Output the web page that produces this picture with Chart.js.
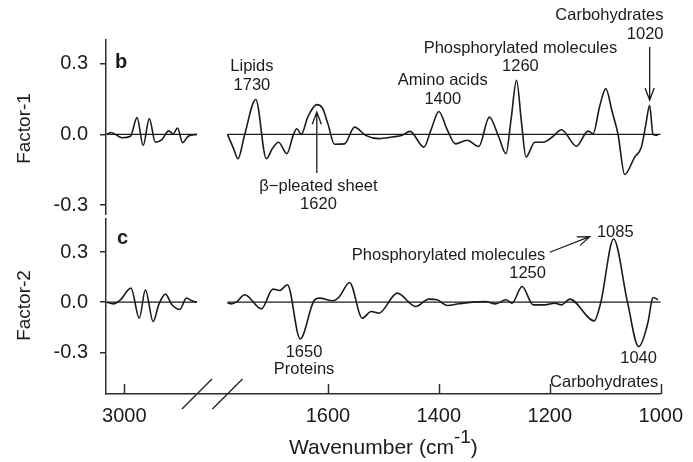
<!DOCTYPE html>
<html>
<head>
<meta charset="utf-8">
<script src="https://cdn.jsdelivr.net/npm/chart.js@4.4.1/dist/chart.umd.min.js"></script>
<style>
  html, body { margin: 0; padding: 0; background: #fff; }
  #wrap { width: 693px; height: 462px; }
</style>
</head>
<body>
<div id="wrap"><canvas id="factorChart" width="693" height="462"></canvas></div>
<script>
// Factor loadings vs wavenumber (cm-1)
// C-H stretch window (high wavenumbers) and fingerprint window
const f1HighWn  = [3032, 3024, 3004, 2989, 2977, 2966, 2955, 2944, 2932, 2920, 2912, 2904, 2895, 2885, 2869];
const f1HighVal = [0.0, 0.008, -0.014, -0.008, 0.071, -0.047, 0.067, -0.033, -0.022, 0.015, 0.002, 0.027, -0.035, -0.008, 0.0];

const f1LowWn  = [1781, 1770, 1762, 1750, 1730, 1711, 1700, 1689, 1674, 1662, 1656, 1648, 1636, 1620, 1610, 1600, 1588, 1570, 1552, 1532,
                  1508, 1484, 1466, 1452, 1427, 1414, 1400, 1385, 1370, 1349, 1328, 1309, 1292, 1279, 1270, 1260, 1251, 1243, 1227, 1212,
                  1195, 1179, 1152, 1131, 1122, 1110, 1099, 1088, 1077, 1065, 1047, 1035, 1027, 1020, 1014, 1008, 1005];
const f1LowVal = [0.0, -0.06, -0.103, 0.0, 0.148, -0.103, -0.06, -0.033, -0.082, 0.0, 0.024, 0.0, 0.075, 0.126, 0.112, 0.045, -0.042, -0.04, 0.031, -0.004,
                  -0.018, -0.011, -0.004, 0.013, -0.054, 0.02, 0.097, 0.02, -0.04, -0.025, -0.051, 0.073, -0.011, -0.082, 0.06, 0.229, 0.05, -0.096, -0.033, -0.033,
                  -0.01, 0.02, -0.05, 0.014, 0.003, 0.12, 0.194, 0.1, 0.0, -0.17, -0.096, -0.054, 0.04, 0.123, 0.0, -0.004, 0.0];

const f2HighWn  = [3032, 3020, 3007, 2988, 2973, 2962, 2948, 2938, 2926, 2914, 2900, 2888, 2878, 2869];
const f2HighVal = [0.0, -0.01, 0.014, 0.084, -0.096, 0.074, -0.116, -0.016, 0.048, -0.016, -0.044, 0.024, 0.008, 0.0];

const f2LowWn  = [1781, 1774, 1765, 1750, 1720, 1699, 1687, 1673, 1650, 1624, 1615, 1591, 1579, 1561, 1538, 1522, 1508, 1475, 1442, 1418,
                  1403, 1385, 1364, 1340, 1316, 1298, 1279, 1268, 1250, 1230, 1209, 1191, 1179, 1164, 1120, 1108, 1085, 1060, 1040, 1023,
                  1016, 1013, 1005];
const f2LowVal = [-0.003, -0.01, 0.0, 0.044, -0.04, 0.078, 0.07, 0.104, -0.22, 0.014, 0.024, 0.008, 0.034, 0.118, -0.096, -0.056, -0.066, 0.054, -0.026, 0.018,
                  0.014, -0.02, -0.01, 0.0, 0.004, -0.01, 0.014, -0.006, 0.094, -0.016, -0.016, -0.006, -0.016, 0.018, -0.112, 0.0, 0.378, 0.0, -0.266, -0.12,
                  0.012, 0.028, 0.014];

// zero reference lines, one per window
const highRange = [3032, 2869];
const lowRange  = [1781, 1000];

const xTickWn   = [3000, 1600, 1400, 1200, 1000];
const yTickVals = [-0.3, 0.0, 0.3];

// the 3000 window is slid down the axis so it sits just left of the break
const BREAK_SHIFT = 1033;
const toAxis = wn => (wn > 2500 ? wn - BREAK_SHIFT : wn);
const fromAxis = v => (v > 1820 ? v + BREAK_SHIFT : v);

const INK = '#1b1b1b';
const AXIS_INK = '#2e2e2e';
const FONT = "'Liberation Sans', Arial, Helvetica, sans-serif";

function series(wn, vals, axis) {
  return {
    data: wn.map((w, i) => ({ x: toAxis(w), y: vals[i] })),
    yAxisID: axis,
    borderColor: INK,
    borderWidth: 1.6,
    pointRadius: 0,
    cubicInterpolationMode: 'monotone',
    fill: false
  };
}

function baseline(range, axis) {
  return {
    data: range.map(w => ({ x: toAxis(w), y: 0 })),
    yAxisID: axis,
    borderColor: INK,
    borderWidth: 1.3,
    pointRadius: 0,
    fill: false
  };
}

// labels and pointers, placed in data units of their panel
const notesB = [
  { wn: 1737, y: 0.286, text: 'Lipids' },
  { wn: 1737, y: 0.209, text: '1730' },
  { wn: 1393, y: 0.227, text: 'Amino acids' },
  { wn: 1393, y: 0.150, text: '1400' },
  { wn: 1253, y: 0.366, text: 'Phosphorylated molecules' },
  { wn: 1253, y: 0.286, text: '1260' },
  { wn: 995, y: 0.502, text: 'Carbohydrates', align: 'right' },
  { wn: 995, y: 0.425, text: '1020', align: 'right' },
  { wn: 1617, y: -0.222, text: 'β−pleated sheet' },
  { wn: 1617, y: -0.298, text: '1620' }
];
const notesC = [
  { wn: 1643, y: -0.301, text: '1650' },
  { wn: 1643, y: -0.405, text: 'Proteins' },
  { wn: 1208, y: 0.277, text: 'Phosphorylated molecules', align: 'right' },
  { wn: 1082, y: 0.417, text: '1085' },
  { wn: 1240, y: 0.169, text: '1250' },
  { wn: 1040, y: -0.340, text: '1040' },
  { wn: 1102, y: -0.478, text: 'Carbohydrates' }
];
const arrowsB = [
  { from: [1020, 0.37], to: [1020, 0.145] },
  { from: [1620, -0.164], to: [1620, 0.095] }
];
const arrowsC = [
  { from: [1200, 0.299], to: [1128, 0.392] }
];

function drawArrow(ctx, x1, y1, x2, y2) {
  const ang = Math.atan2(y2 - y1, x2 - x1);
  const len = 13, spread = 0.36;
  ctx.beginPath();
  ctx.moveTo(x1, y1);
  ctx.lineTo(x2, y2);
  ctx.moveTo(x2 - len * Math.cos(ang - spread), y2 - len * Math.sin(ang - spread));
  ctx.lineTo(x2, y2);
  ctx.lineTo(x2 - len * Math.cos(ang + spread), y2 - len * Math.sin(ang + spread));
  ctx.stroke();
}

const decorations = {
  id: 'decorations',
  afterDraw(chart) {
    const { ctx, chartArea } = chart;
    const x = chart.scales.x, yB = chart.scales.yB, yC = chart.scales.yC;
    const bottom = chartArea.bottom;
    ctx.save();

    // small white gap in the y axis between the two panels
    ctx.fillStyle = '#fff';
    ctx.fillRect(chartArea.left - 3, yB.bottom - 2, 6, 3);

    // tick marks on the wavenumber axis point into the plot
    ctx.strokeStyle = AXIS_INK;
    ctx.lineWidth = 1.5;
    x.ticks.forEach(t => {
      const px = Math.round(x.getPixelForValue(t.value)) + 0.5;
      ctx.beginPath();
      ctx.moveTo(px, bottom);
      ctx.lineTo(px, bottom - 10);
      ctx.stroke();
    });

    // axis break: one slash at each window edge
    [toAxis(highRange[1]), toAxis(lowRange[0])].forEach(v => {
      const px = x.getPixelForValue(v);
      ctx.beginPath();
      ctx.moveTo(px - 15, bottom + 15);
      ctx.lineTo(px + 15, bottom - 15);
      ctx.stroke();
    });

    // axis title with superscript
    const mainSize = 21, supSize = 19;
    ctx.fillStyle = INK;
    ctx.textBaseline = 'alphabetic';
    ctx.textAlign = 'left';
    ctx.font = `${mainSize}px ${FONT}`;
    const w1 = ctx.measureText('Wavenumber (cm').width;
    const w3 = ctx.measureText(')').width;
    ctx.font = `${supSize}px ${FONT}`;
    const w2 = ctx.measureText('-1').width;
    let tx = (chartArea.left + chartArea.right) / 2 - (w1 + w2 + w3) / 2;
    const base = bottom + 60;
    ctx.font = `${mainSize}px ${FONT}`;
    ctx.fillText('Wavenumber (cm', tx, base);
    ctx.font = `${supSize}px ${FONT}`;
    ctx.fillText('-1', tx + w1, base - 11);
    ctx.font = `${mainSize}px ${FONT}`;
    ctx.fillText(')', tx + w1 + w2, base);

    // panel letters
    ctx.font = `bold 20px ${FONT}`;
    ctx.fillText('b', chartArea.left + 9, yB.top + 28);
    ctx.fillText('c', chartArea.left + 11, yC.top + 27);

    // peak labels
    ctx.font = `16.5px ${FONT}`;
    ctx.textBaseline = 'middle';
    const put = (list, ys) => list.forEach(n => {
      ctx.textAlign = n.align || 'center';
      ctx.fillText(n.text, x.getPixelForValue(toAxis(n.wn)), ys.getPixelForValue(n.y));
    });
    put(notesB, yB);
    put(notesC, yC);

    ctx.strokeStyle = INK;
    ctx.lineWidth = 1.3;
    const pointers = (list, ys) => list.forEach(a => {
      drawArrow(ctx,
        x.getPixelForValue(toAxis(a.from[0])), ys.getPixelForValue(a.from[1]),
        x.getPixelForValue(toAxis(a.to[0])), ys.getPixelForValue(a.to[1]));
    });
    pointers(arrowsB, yB);
    pointers(arrowsC, yC);

    ctx.restore();
  }
};

function yAxis(title, min, max) {
  return {
    type: 'linear',
    position: 'left',
    stack: 'panels',
    stackWeight: 1,
    min: min,
    max: max,
    bounds: 'data',
    afterFit: s => { s.width = 106; },
    afterBuildTicks: s => { s.ticks = yTickVals.map(v => ({ value: v })); },
    ticks: {
      color: INK,
      font: { family: FONT, size: 20 },
      padding: 12,
      callback: v => v.toFixed(1)
    },
    grid: { drawOnChartArea: false, drawTicks: true, tickLength: 6, color: AXIS_INK, lineWidth: 1.5 },
    border: { display: true, color: AXIS_INK, width: 1.5 },
    title: {
      display: true,
      text: title,
      color: INK,
      font: { family: FONT, size: 19 },
      padding: { top: 13, bottom: 0 }
    }
  };
}

const ctx = document.getElementById('factorChart').getContext('2d');
new Chart(ctx, {
  type: 'line',
  data: {
    datasets: [
      baseline(highRange, 'yB'),
      baseline(lowRange, 'yB'),
      series(f1HighWn, f1HighVal, 'yB'),
      series(f1LowWn, f1LowVal, 'yB'),
      baseline(highRange, 'yC'),
      baseline(lowRange, 'yC'),
      series(f2HighWn, f2HighVal, 'yC'),
      series(f2LowWn, f2LowVal, 'yC')
    ]
  },
  options: {
    responsive: false,
    animation: false,
    layout: { padding: { top: 40, right: 30, left: 0, bottom: 0 } },
    plugins: { legend: { display: false }, tooltip: { enabled: false } },
    scales: {
      x: {
        type: 'linear',
        reverse: true,
        min: 1000,
        max: 2000,
        bounds: 'data',
        afterFit: s => { s.height = 68; },
        afterBuildTicks: s => { s.ticks = xTickWn.map(w => ({ value: toAxis(w) })); },
        ticks: {
          color: INK,
          font: { family: FONT, size: 20 },
          padding: 10,
          autoSkip: false,
          maxRotation: 0,
          callback: v => String(fromAxis(v))
        },
        grid: { display: false, drawTicks: false },
        border: { display: true, color: AXIS_INK, width: 1.5 }
      },
      // left axes in one stack are laid out last-first, so the lower panel comes first here
      yC: yAxis('Factor-2', -0.55, 0.51),
      yB: yAxis('Factor-1', -0.35, 0.4)
    }
  },
  plugins: [decorations]
});
</script>
</body>
</html>
